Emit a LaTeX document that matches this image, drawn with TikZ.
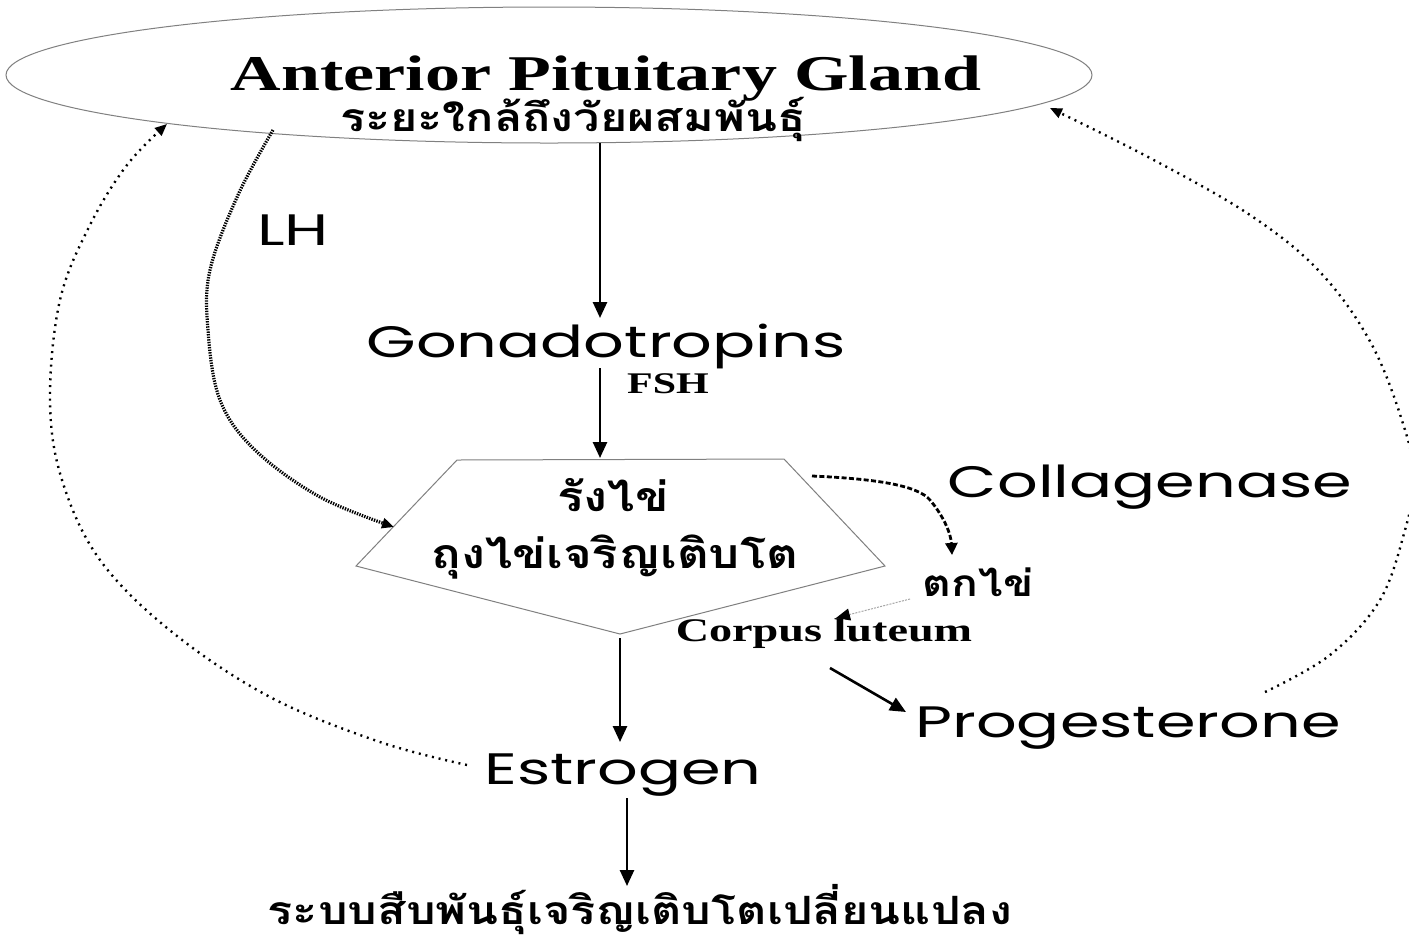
\documentclass[tikz,border=0pt]{standalone}
\usepackage{fontspec}
\usetikzlibrary{shapes.geometric,arrows.meta}
\newfontfamily\tms[FakeStretch=1.4]{Liberation Serif}
\newfontfamily\gth[FakeStretch=1.45]{Poppins}
\newfontfamily\thaif[Script=Thai,FakeStretch=1.2]{Loma}
\begin{document}
\begin{tikzpicture}[x=0.5pt,y=-0.5pt,
  txt/.style={inner sep=0pt,anchor=base},
  gtxt/.style={txt,font=\gth\fontsize{22}{26}\selectfont},
  ttxt/.style={inner sep=0pt,font=\thaif\bfseries\fontsize{19.5}{24}\selectfont},
  arr/.style={line width=1.3pt,-{Triangle[length=8pt,width=7pt]}},
  dots/.style={line width=1.2pt,dash pattern=on 1pt off 2.4pt,-{Triangle[length=6pt,width=5pt]}},
  lhdots/.style={line width=1.6pt,dash pattern=on 0.7pt off 0.6pt,-{Triangle[length=6pt,width=5pt]}},
  coll/.style={line width=1.4pt,dash pattern=on 2.5pt off 1.2pt,-{Triangle[length=6pt,width=6pt]}},
  outl/.style={draw=gray,line width=0.5pt}]
\useasboundingbox (0,0) rectangle (1409,939);
\clip (0,0) rectangle (1409,939);
\fill[white] (0,0) rectangle (1409,939);

% ellipse
\node[outl,ellipse,inner sep=0pt,minimum width=543pt,minimum height=68pt] (apg) at (549,75) {};
\node[txt,font=\tms\bfseries\fontsize{25}{30}\selectfont] (title) at (606,90) {Anterior Pituitary Gland};
\node[ttxt] (stage) at (573,119) {ระยะใกล้ถึงวัยผสมพันธุ์};

% texts
\node[gtxt] (gon) at (606,357) {Gonadotropins};
\node[txt,font=\tms\bfseries\fontsize{15}{18}\selectfont] (fsh) at (668,393) {FSH};
\node[gtxt] (lh) at (293,245) {LH};
\node[gtxt] (col) at (1150,497) {Collagenase};
\node[gtxt] (prog) at (1128,737) {Progesterone};
\node[gtxt] (est) at (623,784) {Estrogen};
\node[txt,font=\tms\bfseries\fontsize{16.5}{20}\selectfont] (cl) at (824,641) {Corpus luteum};

% pentagon
\coordinate (p1) at (457,460);
\coordinate (p2) at (784,459);
\coordinate (p3) at (885,566);
\coordinate (p4) at (620,634);
\coordinate (p5) at (356,566);
\draw[outl] (p1) -- (p2) -- (p3) -- (p4) -- (p5) -- cycle;
\node[ttxt,font=\thaif\bfseries\fontsize{20.5}{24}\selectfont] (ovary) at (613,495) {รังไข่};
\node[ttxt,font=\thaif\bfseries\fontsize{20.5}{24}\selectfont] (foll) at (615,557) {ถุงไข่เจริญเติบโต};
\node[ttxt,font=\thaif\bfseries\fontsize{18.5}{22}\selectfont] (ovul) at (978,582) {ตกไข่};
\node[ttxt] (repro) at (640,910) {ระบบสืบพันธุ์เจริญเติบโตเปลี่ยนแปลง};

% connector end points
\coordinate (a1s) at (600,143);
\coordinate (a1e) at (600,318);
\coordinate (a2s) at (600,368);
\coordinate (a2e) at (600,458);
\coordinate (a3s) at (620,638);
\coordinate (a3e) at (620,742);
\coordinate (a4s) at (627,798);
\coordinate (a4e) at (627,886);
\coordinate (a5s) at (830,668);
\coordinate (a5e) at (906,712);

\draw[arr] (a1s) -- (a1e);
\draw[arr] (a2s) -- (a2e);
\draw[arr] (a3s) -- (a3e);
\draw[arr] (a4s) -- (a4e);
\draw[arr] (a5s) -- (a5e);

% collagenase
\coordinate (c1) at (812,476);
\coordinate (c2) at (952,555);
\draw[coll] (c1) .. controls (880,479) and (918,486) .. (930,500) .. controls (945,518) and (951,535) .. (c2);

% corpus luteum arrow
\coordinate (d1) at (910,599);
\coordinate (d2) at (836,618);
\draw[line width=0.5pt,gray!70,dash pattern=on 1pt off 0.6pt,-{Triangle[length=7pt,width=6pt,color=black,fill=black]}] (d1) -- (d2);

% LH curve
\coordinate (lhs) at (273,130);
\coordinate (lhe) at (394,527);
\draw[lhdots] plot[smooth,tension=0.6] coordinates {(lhs) (238,195) (210,270) (208,330) (220,400) (255,450) (320,497) (lhe)};

% left feedback
\coordinate (ls) at (467,765);
\coordinate (le) at (167,124);
\draw[dots] plot[smooth,tension=0.6] coordinates {(ls) (380,742) (270,697) (172,632) (100,560) (62,480) (50,400) (60,300) (90,225) (127,165) (le)};

% right feedback
\coordinate (rs) at (1265,692);
\coordinate (re) at (1050,108);
\draw[dots] plot[smooth,tension=0.6] coordinates {(rs) (1330,655) (1380,600) (1405,530) (1414,480) (1405,430) (1372,345) (1320,272) (1250,215) (1150,158) (re)};
\end{tikzpicture}
\end{document}
